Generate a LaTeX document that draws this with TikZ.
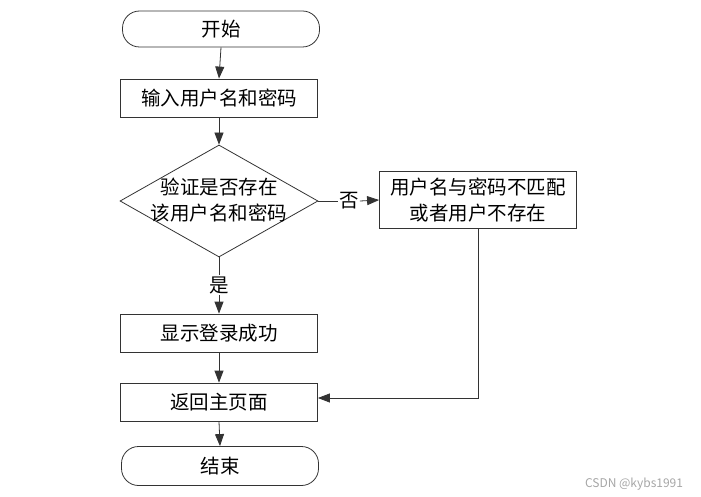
\documentclass[tikz,border=0pt]{standalone}
\usepackage{fontspec}
\setmainfont{Noto Sans CJK SC}
\usepackage{tikz}
\usetikzlibrary{arrows.meta}
\usetikzlibrary{shapes.geometric}
\usepackage{xcolor}
\definecolor{edge}{HTML}{333333}

\begin{document}
\begin{tikzpicture}[x=1pt,y=-1pt,
    box/.style={draw=edge,line width=0.8pt,rectangle,inner sep=0pt,
      minimum width=197pt,minimum height=38pt,font=\fontsize{19.5}{26}\selectfont},
    term/.style={box,rounded corners=17pt,minimum height=36pt},
    decision/.style={draw=edge,line width=0.8pt,diamond,inner sep=0pt,
      minimum width=198pt,minimum height=112pt},
    txt/.style={inner sep=1pt,align=center,font=\fontsize{19.5}{26}\selectfont},
    flow/.style={draw=edge,line width=0.8pt,-{Triangle[length=12pt,width=9pt]}},
    line/.style={draw=edge,line width=0.8pt}]

  \useasboundingbox (0,0) rectangle (701,497);

  \node[term](start) at (221,29) {开始};
  \node[box](input) at (219,98) {输入用户名和密码};
  \node[decision](check) at (219,201) {};
  \node[txt](checktext) at (219,200) {验证是否存在\\该用户名和密码};
  \node[box,minimum height=57pt,align=center](nomatch) at (478,200)
    {用户名与密码不匹配\\或者用户不存在};
  \node[txt](no) at (349,201) {否};
  \node[txt](yes) at (219,285) {是};
  \node[box](success) at (219,333) {显示登录成功};
  \node[box](back) at (219,402) {返回主页面};
  \node[term,minimum height=39pt](stop) at (220,466) {结束};

  \draw[flow] (start.south) -- (input.north);
  \draw[flow] (input.south) -- (check.north);
  \draw[line] (check.east) -- (no.west);
  \draw[flow] (no.east) -- (nomatch.west);
  \draw[line] (check.south) -- (yes.north);
  \draw[flow] (yes.south) -- (success.north);
  \draw[flow] (success.south) -- (back.north);
  \draw[flow] (nomatch.south) |- ([yshift=4pt]back.east);
  \draw[flow] (back.south) -- (stop.north);

  % watermark
  \node[text=gray!70,font=\fontsize{12}{13}\selectfont](mark) at (634,484) {CSDN @kybs1991};

\end{tikzpicture}
\end{document}
